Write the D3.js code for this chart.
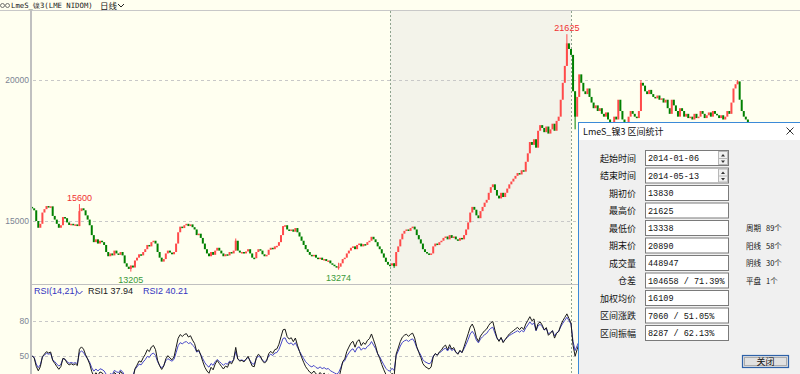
<!DOCTYPE html>
<html><head><meta charset="utf-8">
<script src="https://cdn.jsdelivr.net/npm/d3@7"></script>
<style>body{margin:0;background:#fffff0;overflow:hidden}svg{display:block}</style>
</head><body><svg id="c" width="800" height="374"></svg>
<script>
// ---------- DATA ----------
const firstOpen = 15500;
const closes = [
15450,15380,15000,14760,14900, 15300,15420,15530,15480,15520,
15180,15050,14900,14760,14850, 15140,15100,14950,14860,14900,
14850,14880,14820,15350,15450, 15380,15200,15050,14850,14500,
14250,14350,14200,14300,14250, 14150,13900,13750,13850,13780,
13950,13850,13800,13900,13780, 13500,13380,13300,13420,13350,
13600,13700,13820,13780,13900, 14000,14150,14100,14250,14300,
14200,13900,13700,13560,13650, 13850,13950,13880,13820,13900,
14200,14600,14800,14750,14850, 14900,14820,14880,14780,14700,
14500,14550,14400,14200,14000, 13850,13750,13900,13800,13950,
14050,13950,13850,13750,13820, 13780,13900,13850,13950,14300,
13950,13880,13900,13850,13920, 14000,13850,13700,13680,13900,
14000,13950,13820,13750,13800, 13980,14050,14000,14100,14120,
14250,14500,14820,14850,14700, 14650,14700,14620,14750,14600,
14450,14300,14150,14000,13900, 13800,13750,13800,13700,13650,
13700,13620,13650,13580,13600, 13500,13450,13400,13350,13380,
13500,13650,13700,13850,13950, 14050,14100,14000,14150,14200,
14100,14180,14150,14250,14300, 14440,14350,14250,14100,14000,
13850,13700,13550,13450,13420, 13500,13400,13900,14100,14350,
14550,14650,14700,14650,14750, 14800,14700,14500,14350,14200,
14000,13900,13850,13800,13850, 14100,14200,14150,14250,14300,
14400,14450,14350,14500,14400, 14450,14350,14300,14400,14350,
14500,14700,14950,15300,15500, 15400,15200,15100,15350,15500,
15650,15750,16000,16200,16300, 16100,15900,15800,16000,15850,
16000,16150,16300,16400,16500, 16600,16700,16650,16800,16750,
17100,17400,17800,17700,17900, 17600,18200,18400,18300,18150,
18350,18100,18250,18450,18200, 18550,18700,19300,19900,20500,
21300,21100,20890,19600,18700, 19400,20200,19900,19600,19500,
19700,19400,19200,19000,19100, 18900,19000,18800,18700,18850,
18600,18500,18400,18700,18600, 19300,18900,18600,18500,18400,
18700,18900,18800,18700,18650, 18900,19900,19800,19600,19500,
19650,19500,19400,19350,19450, 19300,19350,19200,19300,19000,
18800,19300,19100,18900,18700, 19000,18900,18700,18800,18650,
18700,18600,18800,18650,18700, 18900,18800,18650,18750,18850,
18700,18900,18800,18750,18650, 18750,18600,18700,18900,18800,
19200,19700,19850,19950,19300, 18900,18700,18600,18500,18300,
18250,18200,18150
];
const wickHigh = {23:15600, 99:14380, 149:13520, 260:21625, 296:20000, 343:20000};
const wickLow  = {48:13205, 149:13274, 176:13338, 264:18250};
const highMarks = [{i:23, v:15600}, {i:260, v:21625}];
const lowMarks  = [{i:48, v:13205}, {i:149, v:13274}];
const priceTicks = [15000, 20000];
const rsiTicks = [50, 80];
const rsiPeriods = [14, 21];
const rangeStart = 174, rangeEnd = 262;   // 2014-01-06 .. 2014-05-13
const statLabels = ["起始时间","结束时间","期初价","最高价","最低价","期末价","成交量","仓差","加权均价","区间涨跌","区间振幅"];
const statValues = ["2014-01-06","2014-05-13","13830","21625","13338","20890","448947","104658 / 71.39%","16109","7060 / 51.05%","8287 / 62.13%"];
const sideLabels = ["周期","阳线","阴线","平盘"];
const sideValues = ["89个","58个","30个","1个"];

// ---------- SCALES ----------
const svg = d3.select("#c");
const x = d3.scaleLinear().domain([rangeStart, rangeEnd]).range([390, 571]);
const y = d3.scaleLinear().domain([15000, 20000]).range([221, 80]);
const yr = d3.scaleLinear().domain([50, 80]).range([356, 321]);
const latin = "Tahoma, 'Liberation Sans', Arial, sans-serif";
const cjk = "'Noto Sans CJK SC', sans-serif";

const defs = svg.append("defs");
defs.append("clipPath").attr("id","mainClip").append("rect").attr("x",32).attr("y",11).attr("width",770).attr("height",273);
defs.append("clipPath").attr("id","rsiClip").append("rect").attr("x",32).attr("y",285).attr("width",770).attr("height",95);

svg.append("rect").attr("width",800).attr("height",374).attr("fill","#fffff0");

// selection shading
svg.append("rect").attr("x",x(rangeStart)).attr("y",11).attr("width",x(rangeEnd)-x(rangeStart)).attr("height",273).attr("fill","#f3f3ea");

// grid
svg.append("g").selectAll("line").data(priceTicks).join("line")
  .attr("x1",33).attr("x2",800).attr("y1",d=>Math.round(y(d))+0.5).attr("y2",d=>Math.round(y(d))+0.5)
  .attr("stroke","#c8c8c8").attr("stroke-dasharray","3,3");
svg.append("g").selectAll("text").data(priceTicks).join("text")
  .attr("x",29).attr("y",d=>y(d)+3).attr("text-anchor","end").attr("font-family",latin).attr("font-size",8.5)
  .attr("fill","#7c8494").text(d=>d);
svg.append("g").selectAll("line").data(rsiTicks).join("line")
  .attr("x1",33).attr("x2",800).attr("y1",d=>Math.round(yr(d))+0.5).attr("y2",d=>Math.round(yr(d))+0.5)
  .attr("stroke","#c8c8c8").attr("stroke-dasharray","3,3");
svg.append("g").selectAll("text").data(rsiTicks).join("text")
  .attr("x",29).attr("y",d=>yr(d)+3).attr("text-anchor","end").attr("font-family",latin).attr("font-size",8.5)
  .attr("fill","#7c8494").text(d=>d);

// selection lines
svg.append("g").selectAll("line").data([rangeStart, rangeEnd]).join("line")
  .attr("x1",d=>Math.round(x(d))+0.5).attr("x2",d=>Math.round(x(d))+0.5).attr("y1",11).attr("y2",374)
  .attr("stroke","#8fa48f").attr("stroke-dasharray","2,2");

// frame lines
svg.append("line").attr("x1",0).attr("x2",800).attr("y1",10.5).attr("y2",10.5).attr("stroke","#c8c8c8");
svg.append("line").attr("x1",31).attr("x2",31).attr("y1",10).attr("y2",374).attr("stroke","#c0c0c0").attr("stroke-width",2);
svg.append("line").attr("x1",31).attr("x2",800).attr("y1",284.5).attr("y2",284.5).attr("stroke","#c0c0c0");

// ---------- CANDLES ----------
const data = closes.map((c,i)=>{
  const o = i===0 ? firstOpen : closes[i-1];
  return {i, o, c, h: wickHigh[i] ?? Math.max(o,c), l: wickLow[i] ?? Math.min(o,c)};
});
const col = d => d.c > d.o ? "#ff4a4a" : (d.c < d.o ? "#008000" : "#888");
const gMain = svg.append("g").attr("clip-path","url(#mainClip)");
gMain.selectAll("line.w").data(data.filter(d=>d.h>Math.max(d.o,d.c)||d.l<Math.min(d.o,d.c))).join("line")
  .attr("x1",d=>x(d.i)).attr("x2",d=>x(d.i)).attr("y1",d=>y(d.h)).attr("y2",d=>y(d.l))
  .attr("stroke",col).attr("stroke-width",1);
gMain.selectAll("rect.b").data(data).join("rect")
  .attr("x",d=>x(d.i)-1).attr("width",2)
  .attr("y",d=>y(Math.max(d.o,d.c))).attr("height",d=>Math.max(1.5,Math.abs(y(d.o)-y(d.c))))
  .attr("fill",col);

svg.append("g").selectAll("text").data(highMarks).join("text")
  .attr("x",d=>x(d.i)).attr("y",d=>y(d.v)-3).attr("text-anchor","middle")
  .attr("font-family",latin).attr("font-size",9).attr("fill","#f03030").text(d=>d.v);
svg.append("g").selectAll("text").data(lowMarks).join("text")
  .attr("x",d=>x(d.i)).attr("y",d=>y(d.v)+11).attr("text-anchor","middle")
  .attr("font-family",latin).attr("font-size",9).attr("fill","#3a9a3a").text(d=>d.v);

// ---------- RSI ----------
function rsi(vals, n){
  let seed = 0; for(let k=1;k<=n;k++) seed += Math.abs(vals[k]-vals[k-1]); seed = seed/n/2;
  let ag = seed, al = seed; const out=[50];
  for(let i=1;i<vals.length;i++){
    const ch = vals[i]-vals[i-1];
    ag = (ag*(n-1)+Math.max(ch,0))/n; al = (al*(n-1)+Math.max(-ch,0))/n;
    out.push(100*ag/(ag+al));
  }
  return out;
}
const rsi1 = rsi(closes, rsiPeriods[0]);
const rsi2 = rsi(closes, rsiPeriods[1]);
const gR = svg.append("g").attr("clip-path","url(#rsiClip)");
const line = d3.line().x((d,i)=>x(i)).y(d=>yr(d));
gR.append("path").attr("d",line(rsi2)).attr("fill","none").attr("stroke","#4646c8").attr("stroke-width",1);
gR.append("path").attr("d",line(rsi1)).attr("fill","none").attr("stroke","#1a1a1a").attr("stroke-width",1);

// RSI header
const hdr = svg.append("g").attr("font-family",latin).attr("font-size",9);
hdr.append("text").attr("x",34).attr("y",294).attr("fill","#3434c0").text(`RSI(${rsiPeriods.join(",")})`);
hdr.append("path").attr("d","M76.5,291 l3,3 l3,-3").attr("fill","none").attr("stroke","#3434c0");
hdr.append("text").attr("x",88).attr("y",294).attr("fill","#202020").text("RSI1 37.94");
hdr.append("text").attr("x",143).attr("y",294).attr("fill","#3434c0").text("RSI2 40.21");

// Title
const tt = svg.append("g");
tt.append("ellipse").attr("cx",2.5).attr("cy",5.5).attr("rx",2).attr("ry",2).attr("fill","none").attr("stroke","#555").attr("stroke-width",0.8);
tt.append("ellipse").attr("cx",7.5).attr("cy",5.5).attr("rx",2).attr("ry",2).attr("fill","none").attr("stroke","#555").attr("stroke-width",0.8);
tt.append("text").attr("x",11).attr("y",8).attr("font-family","'DejaVu Sans Mono', monospace").attr("font-size",7.3).attr("fill","#202020").text("LmeS_镍3(LME NIDOM)");
tt.append("text").attr("x",100).attr("y",8.5).attr("font-family",cjk).attr("font-size",8.5).attr("fill","#202020").text("日线");
tt.append("path").attr("d","M118,4 l3,3 l3,-3").attr("fill","none").attr("stroke","#202020");

// ---------- DIALOG ----------
const dg = svg.append("g");
dg.append("rect").attr("x",578.5).attr("y",122.5).attr("width",240).attr("height",270).attr("fill","#f0f0f0").attr("stroke","#3b8ad8");
dg.append("rect").attr("x",579).attr("y",123).attr("width",239).attr("height",17).attr("fill","#ffffff");
dg.append("text").attr("x",583).attr("y",135).attr("font-family",cjk).attr("font-size",9).attr("fill","#111").text("LmeS_镍3 区间统计");
dg.append("path").attr("d","M786.5,127.5 l7,7 M793.5,127.5 l-7,7").attr("stroke","#333").attr("stroke-width",1);

const rowY = i => 158 + i*17.5;
const rows = dg.append("g");
statLabels.forEach((lab,i)=>{
  const cy = rowY(i);
  rows.append("text").attr("x",636).attr("y",cy+3.5).attr("text-anchor","end").attr("font-family",cjk).attr("font-size",9).attr("fill","#111").text(lab);
  rows.append("rect").attr("x",645.5).attr("y",cy-7.5).attr("width",83).attr("height",15).attr("fill","#fff").attr("stroke","#7a7a7a");
  rows.append("text").attr("x",648).attr("y",cy+3).attr("font-family","'Liberation Mono', 'DejaVu Sans Mono', monospace").attr("font-size",8.5).attr("fill","#111").text(statValues[i]);
  if(i<2){
    rows.append("rect").attr("x",718.5).attr("y",cy-6.5).attr("width",9).attr("height",13).attr("fill","#f0f0f0").attr("stroke","#b8b8b8");
    rows.append("line").attr("x1",718.5).attr("x2",727.5).attr("y1",cy+0.5).attr("y2",cy+0.5).attr("stroke","#b8b8b8");
    rows.append("path").attr("d",`M721,${cy-1.5} l2,-2.5 l2,2.5 z M721,${cy+2.5} l2,2.5 l2,-2.5 z`).attr("fill","#333");
  }
});
sideLabels.forEach((lab,i)=>{
  const cy = rowY(4+i);
  rows.append("text").attr("x",746).attr("y",cy+3).attr("font-family",cjk).attr("font-size",7.5).attr("fill","#111").text(lab);
  rows.append("text").attr("x",766).attr("y",cy+3).attr("font-family",cjk).attr("font-size",7.5).attr("fill","#111").text(sideValues[i]);
});
dg.append("rect").attr("x",742.5).attr("y",355.5).attr("width",46).attr("height",12).attr("fill","#e1e1e1").attr("stroke","#2f62a8").attr("stroke-width",1.2);
dg.append("rect").attr("x",744.5).attr("y",357.5).attr("width",42).attr("height",8).attr("fill","none").attr("stroke","#333").attr("stroke-width",0.6).attr("stroke-dasharray","1,1");
dg.append("text").attr("x",765.5).attr("y",364.5).attr("text-anchor","middle").attr("font-family",cjk).attr("font-size",9).attr("fill","#111").text("关闭");
</script></body></html>
